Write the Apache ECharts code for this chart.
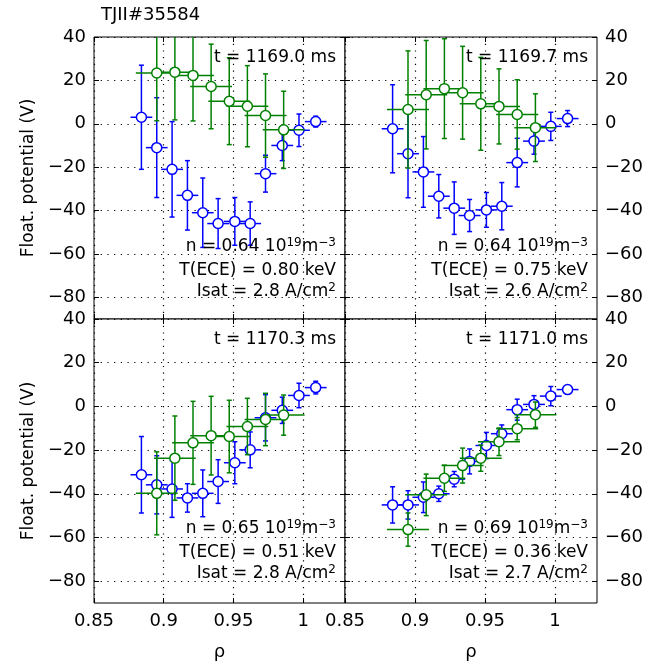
<!DOCTYPE html>
<html><head><meta charset="utf-8">
<script src="https://cdn.jsdelivr.net/npm/echarts@6/dist/echarts.min.js"></script>
<style>html,body{margin:0;padding:0;background:#fff}#c{width:657px;height:667px}</style>
</head><body><div id="c"></div>
<script>
// ---- data ----
const rhoBlue  = [0.884, 0.895, 0.906, 0.917, 0.928, 0.939, 0.951, 0.962, 0.973, 0.985, 0.997, 1.009];
const rhoGreen = [0.895, 0.908, 0.921, 0.934, 0.947, 0.960, 0.973, 0.986];
const rhoErrBlue = 0.0078;
const rhoErrGreen = 0.015;

const xTicks = [0.85, 0.9, 0.95, 1];
const yTicks = [-80, -60, -40, -20, 0, 20, 40];

const times = ['t = 1169.0 ms', 't = 1169.7 ms', 't = 1170.3 ms', 't = 1171.0 ms'];
const densities = ['0.64', '0.64', '0.65', '0.69'];
const teceVals = ['0.80', '0.75', '0.51', '0.36'];
const isatVals = ['2.8', '2.6', '2.8', '2.7'];

// panel 1: t = 1169.0 ms
const blue1     = [3, -11, -21, -33, -41, -46, -45, -46, -23, -10, -3, 1];
const blueErr1  = [24, 23, 22, 16, 16, 11.5, 11, 10, 8.5, 7, 7.5, 2.5];
const green1    = [23.4, 23.8, 22.3, 17.2, 10.4, 8.1, 3.8, -2.8];
const greenErr1 = [22, 22, 21, 19.5, 20, 18.7, 19.2, 17.8];
// panel 2: t = 1169.7 ms
const blue2     = [-2.3, -13.8, -22.2, -33.4, -38.9, -42.3, -39.7, -38, -17.9, -8, -1.2, 2.4];
const blueErr2  = [20.3, 20.3, 16.3, 10, 12.1, 7.4, 8, 10.9, 11.2, 6, 6.5, 3.7];
const green2    = [6.6, 13.4, 16.2, 14.3, 9.2, 8, 4.3, -1.8];
const greenErr2 = [27, 25, 23, 21.4, 21.4, 17.3, 16, 15.6];
// panel 3: t = 1170.3 ms
const blue3     = [-31.3, -35.9, -37.8, -41.9, -39.8, -34.4, -25.8, -19.9, -5.2, -1.8, 5.0, 8.6];
const blueErr3  = [17.5, 13.3, 13, 6.5, 10.7, 10, 9.6, 8.2, 10.6, 6, 5.6, 2.9];
const green3    = [-39.8, -23.7, -16.7, -13.4, -13.8, -9.2, -6.0, -4.0];
const greenErr3 = [19, 19.3, 19, 18, 16.6, 12.9, 12, 9.2];
// panel 4: t = 1171.0 ms
const blue4     = [-45.1, -45.1, -41.6, -40, -33.3, -25.2, -17.9, -12.5, -1.5, 0.9, 4.7, 7.7];
const blueErr4  = [8.3, 6.5, 7, 3.5, 3.5, 5.7, 6, 4, 4.8, 4, 4.4, 1.5];
const green4    = [-56.4, -40.5, -32.9, -27.1, -23.7, -16.2, -10.2, -3.8];
const greenErr4 = [7.6, 9.5, 6, 8, 6, 6.3, 5.1, 5.8];

const panels = [
  {blue: blue1, blueErr: blueErr1, green: green1, greenErr: greenErr1},
  {blue: blue2, blueErr: blueErr2, green: green2, greenErr: greenErr2},
  {blue: blue3, blueErr: blueErr3, green: green3, greenErr: greenErr3},
  {blue: blue4, blueErr: blueErr4, green: green4, greenErr: greenErr4}
];

// ---- layout / style ----
const FONT = '"DejaVu Sans", sans-serif';
const BLUE = '#0000ff', GREEN = '#008000';
const rects = [
  {left: 94, top: 37, width: 251, height: 282},
  {left: 345, top: 37, width: 252, height: 282},
  {left: 94, top: 319, width: 251, height: 284},
  {left: 345, top: 319, width: 252, height: 284}
];

const fmtY = v => (v < 0 ? '\u2212' + Math.abs(v) : String(v));
const fmtX = v => String(+(+v).toFixed(2));

const grids = rects.map(r => Object.assign({show: true, borderColor: '#000', borderWidth: 1,
  backgroundColor: '#fff', outerBoundsMode: 'none', containLabel: false}, r));

const xAxes = [], yAxes = [];
rects.forEach((r, i) => {
  const bottomRow = i >= 2, rightCol = i % 2 === 1;
  ['bottom', 'top'].forEach(pos => {
    xAxes.push({
      type: 'value', gridIndex: i, position: pos, min: 0.85, max: 1.03,
      axisLine: {show: false, onZero: false},
      axisTick: {show: true, inside: true, length: 5, customValues: xTicks, lineStyle: {color: '#000'}},
      axisLabel: {show: pos === 'bottom' && bottomRow, customValues: xTicks, formatter: fmtX,
        fontSize: 18, fontFamily: FONT, color: '#000', margin: 9},
      splitLine: {show: pos === 'bottom', lineStyle: {color: '#000', type: [1.2, 5.5], width: 1.2}},
      name: (pos === 'bottom' && bottomRow) ? 'ρ' : '',
      nameLocation: 'middle', nameGap: 40,
      nameTextStyle: {fontSize: 18, fontFamily: FONT, color: '#000'}
    });
  });
  ['left', 'right'].forEach(pos => {
    const showLab = (pos === 'left') !== rightCol;
    yAxes.push({
      type: 'value', gridIndex: i, position: pos, min: -90, max: 40,
      axisLine: {show: false, onZero: false},
      axisTick: {show: true, inside: true, length: 5, customValues: yTicks, lineStyle: {color: '#000'}},
      axisLabel: {show: showLab, customValues: yTicks, formatter: fmtY,
        fontSize: 18, fontFamily: FONT, color: '#000', margin: 8},
      splitLine: {show: pos === 'left', lineStyle: {color: '#000', type: [1.2, 5.5], width: 1.2}},
      name: (pos === 'left' && !rightCol) ? 'Float. potential (V)' : '',
      nameLocation: 'middle', nameGap: 57,
      nameTextStyle: {fontSize: 17, fontFamily: FONT, color: '#000'}
    });
  });
});

function errRender(color, cap) {
  return function (params, api) {
    const x = api.value(0), y = api.value(1), ey = api.value(2), ex = api.value(3);
    const pT = api.coord([x, y + ey]), pB = api.coord([x, y - ey]);
    const pL = api.coord([x - ex, y]), pR = api.coord([x + ex, y]);
    const style = {stroke: color, lineWidth: 1.5, fill: null};
    return {type: 'group', children: [
      {type: 'line', shape: {x1: pT[0], y1: pT[1], x2: pB[0], y2: pB[1]}, style},
      {type: 'line', shape: {x1: pT[0] - cap, y1: pT[1], x2: pT[0] + cap, y2: pT[1]}, style},
      {type: 'line', shape: {x1: pB[0] - cap, y1: pB[1], x2: pB[0] + cap, y2: pB[1]}, style},
      {type: 'line', shape: {x1: pL[0], y1: pL[1], x2: pR[0], y2: pR[1]}, style}
    ]};
  };
}

const series = [];
panels.forEach((p, i) => {
  const xi = i * 2, yi = i * 2;
  const bData = rhoBlue.map((r, k) => [r, p.blue[k], p.blueErr[k], rhoErrBlue]);
  const gData = rhoGreen.map((r, k) => [r, p.green[k], p.greenErr[k], rhoErrGreen]);
  series.push({type: 'custom', xAxisIndex: xi, yAxisIndex: yi, data: bData, clip: true, z: 2,
    encode: {x: 0, y: 1}, renderItem: errRender(BLUE, 2.5), silent: true});
  series.push({type: 'scatter', xAxisIndex: xi, yAxisIndex: yi, data: bData.map(d => [d[0], d[1]]), z: 3,
    symbol: 'circle', symbolSize: 10, itemStyle: {color: '#fff', borderColor: BLUE, borderWidth: 1.5, opacity: 1}, silent: true});
  series.push({type: 'custom', xAxisIndex: xi, yAxisIndex: yi, data: gData, clip: true, z: 4,
    encode: {x: 0, y: 1}, renderItem: errRender(GREEN, 2.5), silent: true});
  series.push({type: 'scatter', xAxisIndex: xi, yAxisIndex: yi, data: gData.map(d => [d[0], d[1]]), z: 5,
    symbol: 'circle', symbolSize: 10, itemStyle: {color: '#fff', borderColor: GREEN, borderWidth: 1.5, opacity: 1}, silent: true});
});

const txt = (x, y, text, size, align, rich) => ({
  type: 'text', x, y, z: 100, silent: true,
  style: {text, fontSize: size, fontFamily: FONT, fill: '#000', align: align, verticalAlign: 'middle', rich}
});
const rich = {
  a: {fontSize: 17, fontFamily: FONT, color: '#000', lineHeight: 20},
  s: {fontSize: 12, fontFamily: FONT, color: '#000', lineHeight: 11, verticalAlign: 'top'}
};
const graphics = [txt(101, 15, 'TJII#35584', 18, 'left')];
rects.forEach((r, i) => {
  const xr = r.left + r.width - 9;
  graphics.push(txt(xr, r.top + 21, times[i], 17, 'right'));
  graphics.push(txt(xr, r.top + 209.5, '{a|n = ' + densities[i] + ' 10}{s|19}{a|m}{s|\u22123}', 17, 'right', rich));
  graphics.push(txt(xr, r.top + 234, 'T(ECE) = ' + teceVals[i] + ' keV', 17, 'right'));
  graphics.push(txt(xr, r.top + 255, '{a|Isat = ' + isatVals[i] + ' A/cm}{s|2}', 17, 'right', rich));
});

const chart = echarts.init(document.getElementById('c'), null, {renderer: 'canvas'});
chart.setOption({
  animation: false,
  backgroundColor: '#fff',
  grid: grids,
  xAxis: xAxes,
  yAxis: yAxes,
  series,
  graphic: graphics
});
</script>
</body></html>
